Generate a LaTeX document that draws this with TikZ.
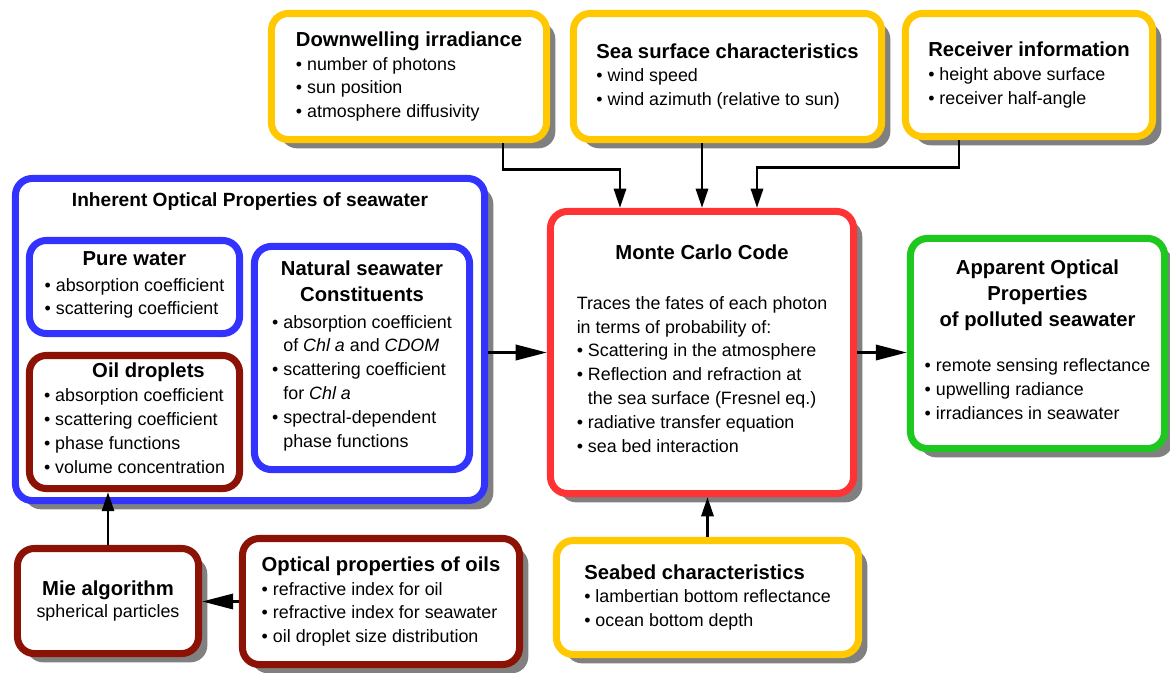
\documentclass[tikz,border=0pt]{standalone}
\usepackage{fontspec}
\setmainfont{Liberation Sans}
\usetikzlibrary{arrows.meta,calc,shadows}

\definecolor{inyellow}{RGB}{255,200,0}
\definecolor{iopblue}{RGB}{51,51,255}
\definecolor{oilred}{RGB}{140,18,5}
\definecolor{mcred}{RGB}{255,51,51}
\definecolor{aopgreen}{RGB}{30,200,30}
\definecolor{shadowgray}{RGB}{128,128,128}

\newcommand{\ttl}{\fontsize{14.4}{18}\selectfont\bfseries}
\newcommand{\blist}[1]{\begin{tabular}[t]{@{}l@{}}#1\end{tabular}}

\tikzset{
  box/.style={draw, line width=5pt, rounded corners=0.42cm, fill=white,
    inner sep=0pt, font=\fontsize{12.7}{17}\selectfont},
  shadowed/.style={drop shadow={shadow xshift=0.22cm, shadow yshift=-0.22cm,
    fill=shadowgray, opacity=1}},
  inbox/.style={box, shadowed, draw=inyellow, align=left},
  varr/.style={line width=2.1pt, -{Triangle[length=0.48cm,width=0.3cm]}},
  harr/.style={line width=2.1pt, -{Triangle[length=0.78cm,width=0.38cm]}},
}

\begin{document}
\begin{tikzpicture}[x=0.025cm, y=-0.025cm]
    \useasboundingbox (0,0) rectangle (1170,672);

    % inputs on top
    \node[inbox, minimum width=6.875cm, minimum height=3.15cm] (dwn) at (409,76.5)
        {{\ttl Downwelling irradiance}\\ • number of photons\\ • sun position\\ • atmosphere diffusivity};
    \node[inbox, minimum width=7.7cm, minimum height=3.15cm] (sea) at (727.5,76.5)
        {{\ttl Sea surface characteristics}\\ • wind speed\\ • wind azimuth (relative to sun)};
    \node[inbox, minimum width=6.175cm, minimum height=3.075cm] (rcv) at (1029,75)
        {{\ttl Receiver information}\\ • height above surface\\ • receiver half-angle};

    % inherent optical properties
    \node[box, shadowed, draw=iopblue, minimum width=11.725cm, minimum height=8.05cm] (iop) at (250,339.5) {};
    \node[font=\fontsize{13.6}{16}\selectfont\bfseries] (ioptitle) at (250,202) {Inherent Optical Properties of seawater};
    \node[box, draw=iopblue, align=center, minimum width=5.25cm, minimum height=2.325cm] (pure) at (134.5,287)
        {{\ttl Pure water}\\[1pt] \blist{• absorption coefficient\\ • scattering coefficient}};
    \node[box, draw=oilred, align=center, minimum width=5.25cm, minimum height=3.325cm] (oil) at (134.5,422)
        {\hspace*{0.7cm}{\ttl Oil droplets}\\ \blist{• absorption coefficient\\ • scattering coefficient\\ • phase functions\\ • volume concentration}};
    \node[box, draw=iopblue, align=center, minimum width=5.375cm, minimum height=5.575cm] (nat) at (362,358)
        {{\ttl Natural seawater}\\[1.5pt] {\ttl Constituents}\\[1.5pt]
         \blist{• absorption coefficient\\ \phantom{• }of \textit{Chl a} and \textit{CDOM}\\ • scattering coefficient\\
         \phantom{• }for \textit{Chl a}\\ • spectral-dependent\\ \phantom{• }phase functions}};

    % monte carlo code
    \node[box, shadowed, draw=mcred, align=center, minimum width=7.575cm, minimum height=7.05cm] (mc) at (702,352.5)
        {{\ttl Monte Carlo Code}\\[18pt]
         \blist{Traces the fates of each photon\\ in terms of probability of:\\ • Scattering in the atmosphere\\
         • Reflection and refraction at\\ \phantom{• }the sea surface (Fresnel eq.)\\ • radiative transfer equation\\
         • sea bed interaction}};

    % output
    \node[box, shadowed, draw=aopgreen, align=center, minimum width=6.35cm, minimum height=5.25cm] (aop) at (1037.5,343.5)
        {{\ttl Apparent Optical}\\[1.5pt] {\ttl Properties}\\[1.5pt] {\ttl of polluted seawater}\\[15pt]
         \blist{• remote sensing reflectance\\ • upwelling radiance\\ • irradiances in seawater}};

    % bottom row
    \node[inbox, minimum width=7.55cm, minimum height=2.85cm] (bed) at (707.5,597.5)
        {{\ttl Seabed characteristics}\\ • lambertian bottom reflectance\\ • ocean bottom depth};
    \node[box, shadowed, draw=oilred, align=center, minimum width=4.525cm, minimum height=2.625cm] (mie) at (108,601)
        {{\ttl Mie algorithm}\\[-2pt] spherical particles};
    \node[box, shadowed, draw=oilred, align=left, minimum width=6.925cm, minimum height=3.15cm] (opt) at (381,601.5)
        {{\ttl Optical properties of oils}\\ • refractive index for oil\\ • refractive index for seawater\\ • oil droplet size distribution};

    % arrows
    \draw[varr] ($(dwn.south)+(94,0)$) |- ($(mc.north)+(-82,-38)$) -- ($(mc.north)+(-82,0)$);
    \draw[varr] (sea.south -| mc.north) -- (mc.north);
    \draw[varr] ($(rcv.south)+(-70,0)$) |- ($(mc.north)+(55,-40)$) -- ($(mc.north)+(55,0)$);
    \draw[harr] (iop.east |- mc.west) -- (mc.west);
    \draw[harr] (mc.east) -- (mc.east -| aop.west);
    \draw[varr] (bed.north) -- (bed.north |- mc.south);
    \draw[varr] (mie.north) -- (mie.north |- oil.south);
    \draw[harr] (opt.west) -- (opt.west -| mie.east);
\end{tikzpicture}
\end{document}
